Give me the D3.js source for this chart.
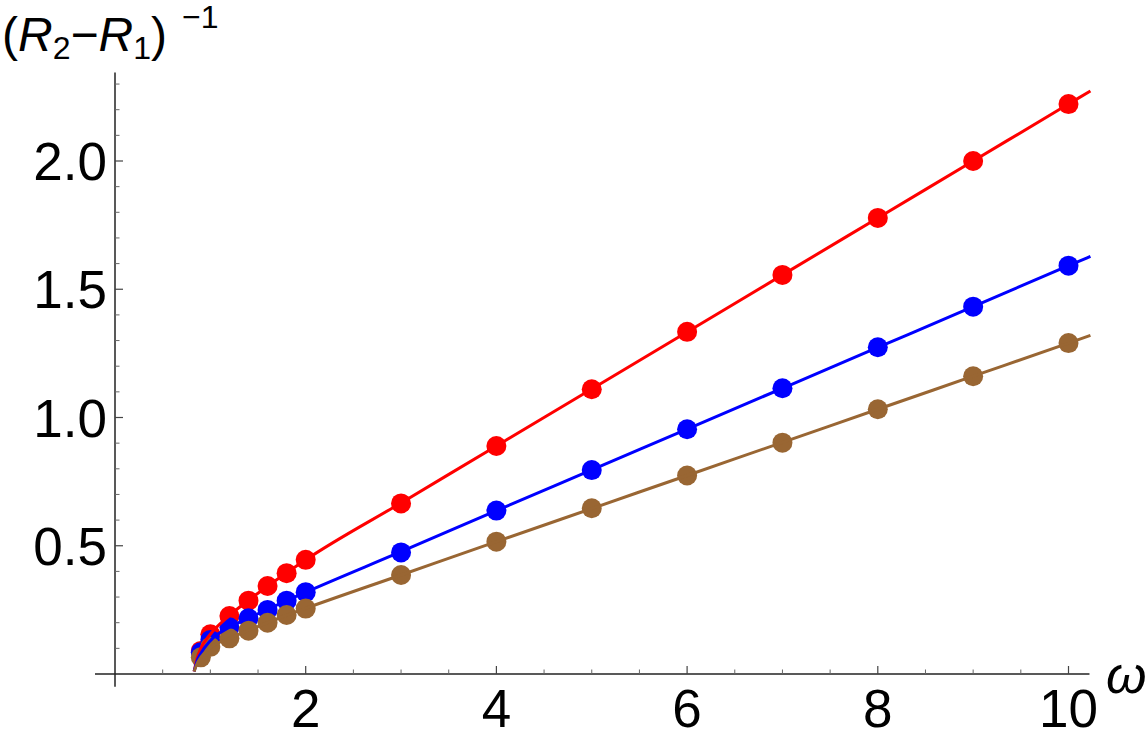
<!DOCTYPE html>
<html>
<head>
<meta charset="utf-8">
<script src="https://cdn.jsdelivr.net/npm/d3@7"></script>
<style>
  body { margin: 0; background: #fff; }
  text { font-family: "Liberation Sans", Arial, sans-serif; }
</style>
</head>
<body>
<div id="chart"></div>
<script>
// omega values of the markers
var pointX = [0.9, 1.0, 1.2, 1.4, 1.6, 1.8, 2, 3, 4, 5, 6, 7, 8, 9, 10];
var redY = [0.09, 0.155, 0.226, 0.286, 0.343, 0.393, 0.445, 0.665, 0.889, 1.11, 1.334, 1.556, 1.778, 2.0, 2.222];
var blueY = [0.085, 0.133, 0.182, 0.217, 0.25, 0.286, 0.319, 0.474, 0.637, 0.795, 0.954, 1.114, 1.274, 1.432, 1.592];
var brownY = [0.065, 0.106, 0.139, 0.169, 0.2, 0.23, 0.255, 0.386, 0.516, 0.646, 0.774, 0.902, 1.032, 1.161, 1.29];

// fitted curves
var lineX = [0.83, 0.86, 0.9, 1.0, 1.2, 1.4, 1.6, 1.8, 2, 3, 4, 5, 6, 7, 8, 9, 10, 10.23];
var redLine = [0.01, 0.06, 0.1, 0.155, 0.228, 0.287, 0.342, 0.394, 0.445, 0.667, 0.889, 1.111, 1.333, 1.556, 1.778, 2.0, 2.222, 2.273];
var blueLine = [0.01, 0.05, 0.08, 0.13, 0.182, 0.218, 0.252, 0.286, 0.319, 0.477, 0.637, 0.796, 0.955, 1.114, 1.273, 1.432, 1.592, 1.628];
var brownLine = [0.01, 0.04, 0.065, 0.103, 0.139, 0.17, 0.2, 0.229, 0.256, 0.386, 0.516, 0.645, 0.774, 0.903, 1.032, 1.161, 1.29, 1.32];

var xTicks = [2, 4, 6, 8, 10];
var yTicks = [0.5, 1.0, 1.5, 2.0];

var svgWidth = 1146;
var svgHeight = 738;

var svg = d3.select("#chart")
    .append("svg")
    .attr("width", svgWidth)
    .attr("height", svgHeight);

// x: 0 at 115, 10 at 1068.5
var x = d3.scaleLinear()
    .domain([0, 10])
    .range([115, 1068.5]);

// y: 0 at 674, 2.0 at 161
var y = d3.scaleLinear()
    .domain([0, 2])
    .range([674, 161]);

var axisColor = "#222";

// x axis line
svg.append("line")
    .attr("x1", x(-0.21)).attr("x2", x(10.22))
    .attr("y1", y(0)).attr("y2", y(0))
    .attr("stroke", axisColor).attr("stroke-width", 1.5);

// y axis line
svg.append("line")
    .attr("x1", x(0)).attr("x2", x(0))
    .attr("y1", y(-0.05)).attr("y2", y(2.345))
    .attr("stroke", axisColor).attr("stroke-width", 1.5);

// minor ticks
var xMinor = d3.range(1, 21).map(d => d * 0.5).filter(d => d % 2 !== 0);
svg.selectAll(".xminor")
    .data(xMinor)
    .enter()
    .append("line")
    .attr("x1", d => x(d)).attr("x2", d => x(d))
    .attr("y1", y(0)).attr("y2", y(0) - 4.5)
    .attr("stroke", "#666").attr("stroke-width", 1);

svg.selectAll(".xmajor")
    .data(xTicks)
    .enter()
    .append("line")
    .attr("x1", d => x(d)).attr("x2", d => x(d))
    .attr("y1", y(0)).attr("y2", y(0) - 8)
    .attr("stroke", "#444").attr("stroke-width", 1.2);

var yMinor = d3.range(1, 24).map(d => d / 10).filter(d => d % 0.5 > 0.01 && d % 0.5 < 0.49);
svg.selectAll(".yminor")
    .data(yMinor)
    .enter()
    .append("line")
    .attr("x1", x(0)).attr("x2", x(0) + 4.5)
    .attr("y1", d => y(d)).attr("y2", d => y(d))
    .attr("stroke", "#666").attr("stroke-width", 1);

svg.selectAll(".ymajor")
    .data(yTicks)
    .enter()
    .append("line")
    .attr("x1", x(0)).attr("x2", x(0) + 8)
    .attr("y1", d => y(d)).attr("y2", d => y(d))
    .attr("stroke", "#444").attr("stroke-width", 1.2);

// tick labels
svg.selectAll(".xlabel")
    .data(xTicks)
    .enter()
    .append("text")
    .attr("x", d => x(d))
    .attr("y", 727)
    .attr("text-anchor", "middle")
    .attr("font-size", 53)
    .text(d => d);

svg.selectAll(".ylabel")
    .data(yTicks)
    .enter()
    .append("text")
    .attr("x", 107)
    .attr("y", d => y(d) + 19)
    .attr("text-anchor", "end")
    .attr("font-size", 53)
    .text(d => d.toFixed(1));

// axis titles
svg.append("text")
    .attr("x", 1106)
    .attr("y", 693)
    .attr("font-size", 52)
    .attr("font-style", "italic")
    .text("ω");

var title = svg.append("text")
    .attr("x", 2)
    .attr("y", 51)
    .attr("font-size", 48);
title.append("tspan").text("(");
title.append("tspan").attr("font-style", "italic").text("R");
title.append("tspan").attr("font-size", 32).attr("dy", 8).text("2");
title.append("tspan").attr("dy", -8).text("−");
title.append("tspan").attr("font-style", "italic").text("R");
title.append("tspan").attr("font-size", 32).attr("dy", 8).text("1");
title.append("tspan").attr("dy", -8).text(")");
title.append("tspan").attr("font-size", 32).attr("dx", 15).attr("dy", -23).text("−1");

var series = [
    { pts: redY, line: redLine, color: "#ff0000" },
    { pts: blueY, line: blueLine, color: "#0000ff" },
    { pts: brownY, line: brownLine, color: "#996633" }
];

// markers
series.forEach(s => {
    svg.append("g")
        .selectAll("circle")
        .data(pointX)
        .enter()
        .append("circle")
        .attr("cx", (d, i) => x(d))
        .attr("cy", (d, i) => y(s.pts[i]))
        .attr("r", 10)
        .attr("fill", s.color);
});

// curves
var lineGen = d3.line()
    .curve(d3.curveMonotoneX);

series.forEach(s => {
    svg.append("path")
        .attr("d", lineGen(lineX.map((d, i) => [x(d), y(s.line[i])])))
        .attr("fill", "none")
        .attr("stroke", s.color)
        .attr("stroke-width", 3);
});
</script>
</body>
</html>
